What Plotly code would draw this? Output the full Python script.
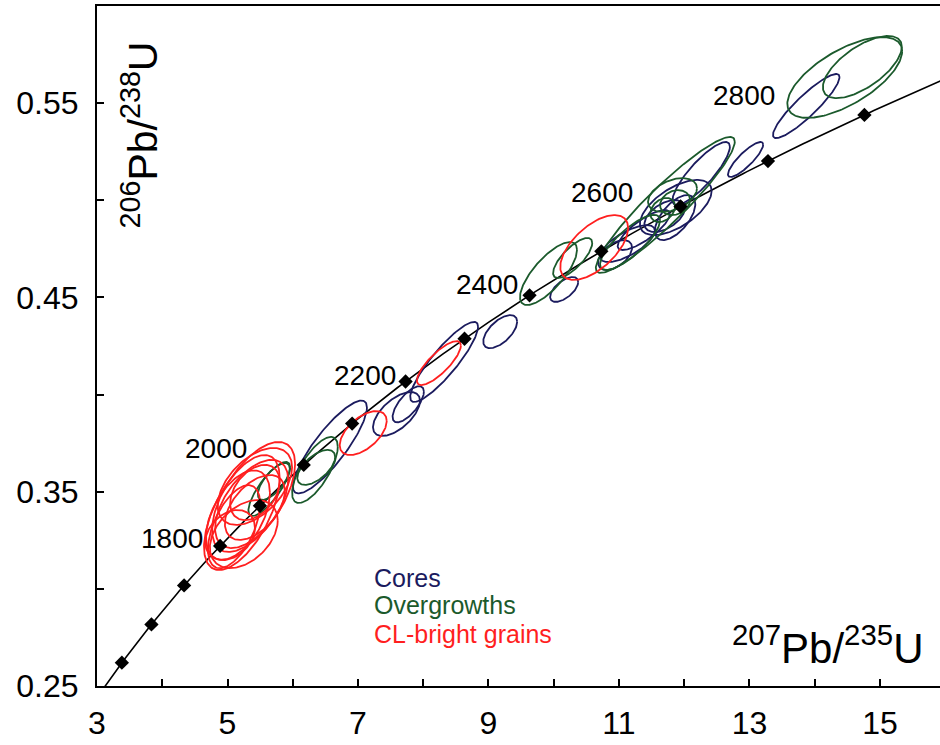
import numpy as np
import plotly.graph_objects as go

# ---- decay constants (per year) for the concordia curve ----
LAMBDA_238 = 1.55125e-10
LAMBDA_235 = 9.8485e-10

# ---- concordia tick ages (Ma) and labelled ages ----
marker_ages = [1500, 1600, 1700, 1800, 1900, 2000, 2100, 2200, 2300,
               2400, 2500, 2600, 2700, 2800]
label_ages = ["1800", "2000", "2200", "2400", "2600", "2800"]
label_x = [4.15, 4.82, 7.10, 8.98, 10.74, 12.92]
label_y = [0.3257, 0.372, 0.4096, 0.4564, 0.5042, 0.5537]

# ---- error ellipses: centre (207Pb/235U, 206Pb/238U), half-widths, correlation ----
cores_x = [6.57, 7.59, 7.77, 8.32, 9.18, 10.16, 10.94, 11.13, 11.38, 11.87, 11.70, 11.86, 12.26, 12.94, 13.87]
cores_y = [0.373, 0.390, 0.395, 0.4168, 0.4324, 0.4541, 0.4718, 0.4777, 0.4847, 0.4963, 0.4919, 0.4911, 0.5138, 0.521, 0.5485]
cores_sx = [0.567, 0.36, 0.24, 0.52, 0.26, 0.215, 0.26, 0.42, 0.40, 0.55, 0.31, 0.31, 0.44, 0.27, 0.51]
cores_sy = [0.0239, 0.0113, 0.0093, 0.0206, 0.0085, 0.0064, 0.0077, 0.0095, 0.0103, 0.0142, 0.0082, 0.0116, 0.0162, 0.009, 0.0165]
cores_rho = [0.85, 0.6, 0.7, 0.88, 0.6, 0.6, 0.5, 0.7, 0.8, 0.6, 0.5, 0.6, 0.85, 0.85, 0.9]

over_x = [5.64, 5.71, 6.34, 6.36, 9.92, 10.29, 11.17, 11.82, 11.67, 11.71, 14.46, 14.73, 11.86]
over_y = [0.3514, 0.3553, 0.3612, 0.3625, 0.4623, 0.4703, 0.4783, 0.5027, 0.495, 0.4976, 0.5632, 0.5686, 0.4988]
over_sx = [0.32, 0.245, 0.35, 0.29, 0.437, 0.30, 0.46, 0.375, 0.19, 1.065, 0.88, 0.605, 0.23]
over_sy = [0.0139, 0.0095, 0.017, 0.009, 0.0162, 0.0103, 0.0142, 0.0087, 0.0062, 0.035, 0.0208, 0.016, 0.0064]
over_rho = [0.8, 0.7, 0.7, 0.6, 0.75, 0.75, 0.8, 0.4, 0.3, 0.93, 0.65, 0.65, 0.2]

cl_x = [5.40, 5.22, 5.16, 5.37, 5.10, 5.42, 5.25, 5.42, 5.42, 5.04, 7.08, 8.24, 10.62]
cl_y = [0.3473, 0.3393, 0.338, 0.3437, 0.332, 0.3419, 0.3282, 0.3527, 0.3496, 0.3277, 0.3802, 0.4162, 0.4757]
cl_sx = [0.636, 0.58, 0.49, 0.56, 0.40, 0.46, 0.52, 0.57, 0.38, 0.38, 0.36, 0.337, 0.52]
cl_sy = [0.0283, 0.0296, 0.023, 0.0227, 0.0214, 0.0167, 0.0175, 0.0198, 0.0142, 0.0129, 0.0113, 0.0113, 0.0167]
cl_rho = [0.6, 0.6, 0.5, 0.55, 0.55, 0.5, 0.4, 0.5, 0.4, 0.3, 0.55, 0.8, 0.6]

# ---- legend / axis text ----
group_names = ["Cores", "Overgrowths", "CL-bright grains"]
group_colors = ["#1b1b5e", "#1b5a2c", "#ff1f1f"]
x_tick_vals = [3, 4, 5, 6, 7, 8, 9, 10, 11, 12, 13, 14, 15]
x_tick_text = ["3", "", "5", "", "7", "", "9", "", "11", "", "13", "", "15"]
y_tick_vals = [0.25, 0.30, 0.35, 0.40, 0.45, 0.50, 0.55]
y_tick_text = ["0.25", "", "0.35", "", "0.45", "", "0.55"]

FONT = "Liberation Sans, Arial, sans-serif"


def concordia(age_ma):
    t = np.asarray(age_ma, dtype=float) * 1e6
    return np.exp(LAMBDA_235 * t) - 1.0, np.exp(LAMBDA_238 * t) - 1.0


def ellipse(cx, cy, sx, sy, rho, n=160):
    th = np.linspace(0, 2 * np.pi, n)
    ex = cx + sx * np.cos(th)
    ey = cy + sy * (rho * np.cos(th) + np.sqrt(1 - rho ** 2) * np.sin(th))
    return ex, ey


fig = go.Figure()

# concordia curve
curve_ages = np.linspace(1300, 3000, 500)
cx_curve, cy_curve = concordia(curve_ages)
fig.add_trace(go.Scatter(x=cx_curve, y=cy_curve, mode="lines",
                         line=dict(color="black", width=1.6), hoverinfo="skip"))

groups = [
    (cores_x, cores_y, cores_sx, cores_sy, cores_rho, group_colors[0]),
    (over_x, over_y, over_sx, over_sy, over_rho, group_colors[1]),
    (cl_x, cl_y, cl_sx, cl_sy, cl_rho, group_colors[2]),
]
for gx, gy, gsx, gsy, grho, col in groups:
    for a, b, c, d, r in zip(gx, gy, gsx, gsy, grho):
        ex, ey = ellipse(a, b, c, d, r)
        fig.add_trace(go.Scatter(x=ex, y=ey, mode="lines",
                                 line=dict(color=col, width=1.8), hoverinfo="skip"))

# concordia age markers
mx, my = concordia(marker_ages)
fig.add_trace(go.Scatter(x=mx, y=my, mode="markers",
                         marker=dict(symbol="diamond", size=11, color="black")))

annotations = []
for txt, ax_, ay_ in zip(label_ages, label_x, label_y):
    annotations.append(dict(x=ax_, y=ay_, text=txt, showarrow=False,
                            font=dict(family=FONT, size=28, color="black"),
                            xanchor="center", yanchor="middle"))

legend_y = [0.3056, 0.2917, 0.2768]
for name, col, ly in zip(group_names, group_colors, legend_y):
    annotations.append(dict(x=7.22, y=ly, text=name, showarrow=False,
                            font=dict(family=FONT, size=25, color=col),
                            xanchor="left", yanchor="middle"))

annotations.append(dict(x=3.66, y=0.5334, text="<sup>206</sup>Pb/<sup>238</sup>U",
                        textangle=-90, showarrow=False,
                        font=dict(family=FONT, size=41, color="black"),
                        xanchor="center", yanchor="middle"))
annotations.append(dict(x=14.20, y=0.271, text="<sup>207</sup>Pb/<sup>235</sup>U",
                        showarrow=False,
                        font=dict(family=FONT, size=42, color="black"),
                        xanchor="center", yanchor="middle"))

fig.update_layout(
    width=940, height=745,
    margin=dict(l=97, r=0, t=6, b=59),
    paper_bgcolor="white", plot_bgcolor="white",
    showlegend=False,
    annotations=annotations,
    xaxis=dict(range=[3, 15.92], showgrid=False, zeroline=False,
               showline=True, linecolor="black", linewidth=2, mirror=True,
               ticks="inside", ticklen=7, tickwidth=1.5, tickcolor="black",
               tickvals=x_tick_vals, ticktext=x_tick_text,
               tickfont=dict(family=FONT, size=32, color="black"),
               ticklabelstandoff=8),
    yaxis=dict(range=[0.25, 0.60], showgrid=False, zeroline=False,
               showline=True, linecolor="black", linewidth=2,
               ticks="inside", ticklen=7, tickwidth=1.5, tickcolor="black",
               tickvals=y_tick_vals, ticktext=y_tick_text,
               tickfont=dict(family=FONT, size=32, color="black"),
               ticklabelstandoff=10),
)

fig.write_html("out.html")
